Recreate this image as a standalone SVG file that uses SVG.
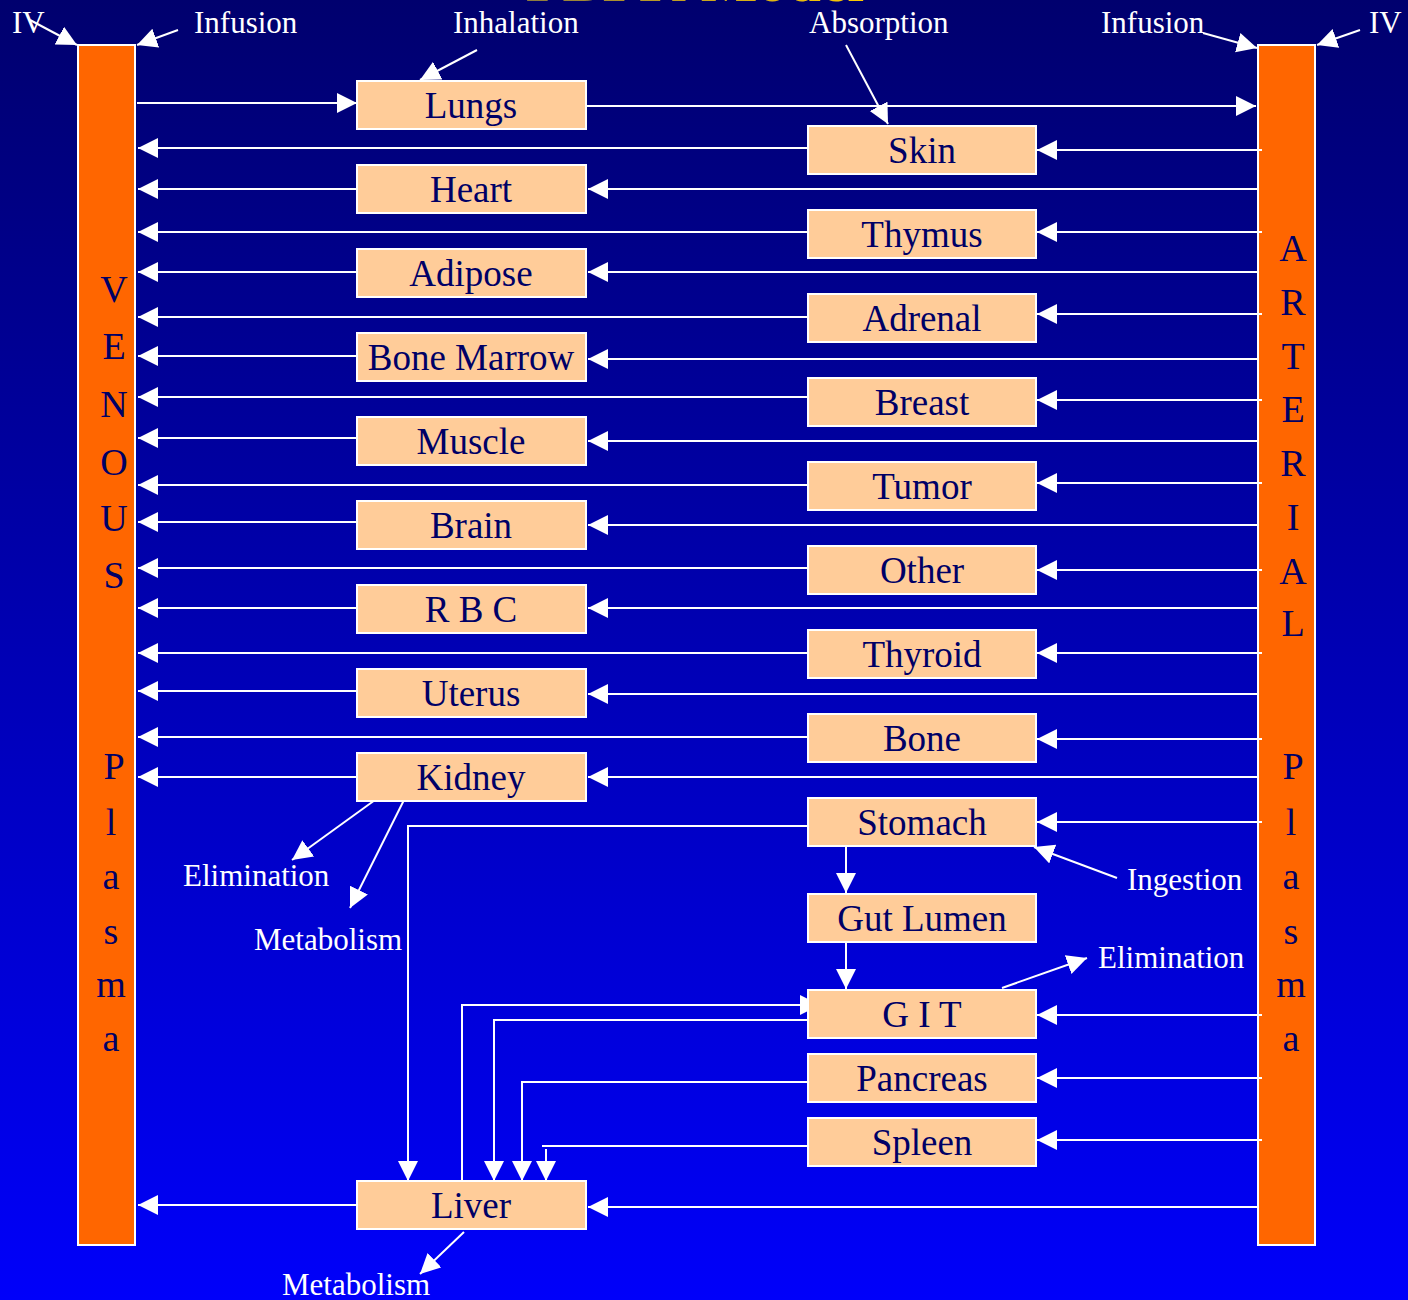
<svg xmlns="http://www.w3.org/2000/svg" width="1408" height="1300" viewBox="0 0 1408 1300">
<defs>
<linearGradient id="bg" x1="0" y1="0" x2="0" y2="1">
<stop offset="0" stop-color="#00006e"/>
<stop offset="1" stop-color="#0000fa"/>
</linearGradient>
<linearGradient id="gold" x1="0" y1="0" x2="1" y2="0">
<stop offset="0" stop-color="#8c7a40"/>
<stop offset="1" stop-color="#ffcc00"/>
</linearGradient>
<marker id="ah" markerUnits="userSpaceOnUse" markerWidth="22" markerHeight="22" refX="20" refY="10" orient="auto">
<path d="M0,0 L20,10 L0,20 z" fill="#fff"/>
</marker>
</defs>
<style>
.bar{fill:#ff6600;stroke:#fff;stroke-width:2}
.box{fill:#ffcc99;stroke:#fff;stroke-width:2}
.bt{font-family:"Liberation Serif",serif;font-size:37px;fill:#000066;text-anchor:middle}
.vt{font-family:"Liberation Serif",serif;font-size:38px;fill:#000066;text-anchor:middle}
.lb{font-family:"Liberation Serif",serif;font-size:31px;fill:#fff}
.c{fill:none;stroke:#fff;stroke-width:2}
.a{marker-end:url(#ah)}
</style>
<rect x="0" y="0" width="1408" height="1300" fill="url(#bg)"/>
<text x="695" y="1" font-family="Liberation Serif,serif" font-weight="bold" font-size="60" fill="url(#gold)" text-anchor="middle">PBPK Model</text>

<g id="venous">
<rect class="bar" x="78" y="45" width="57" height="1200"/>
<text class="vt" x="114" y="302">V</text>
<text class="vt" x="114" y="359">E</text>
<text class="vt" x="114" y="417">N</text>
<text class="vt" x="114" y="475">O</text>
<text class="vt" x="114" y="531">U</text>
<text class="vt" x="114" y="588">S</text>
<text class="vt" x="114" y="779">P</text>
<text class="vt" x="111" y="835">l</text>
<text class="vt" x="111" y="889">a</text>
<text class="vt" x="111" y="944">s</text>
<text class="vt" x="111" y="997">m</text>
<text class="vt" x="111" y="1051">a</text>
</g>
<g id="arterial">
<rect class="bar" x="1258" y="45" width="57" height="1200"/>
<text class="vt" x="1293" y="261">A</text>
<text class="vt" x="1293" y="315">R</text>
<text class="vt" x="1293" y="369">T</text>
<text class="vt" x="1293" y="422">E</text>
<text class="vt" x="1293" y="476">R</text>
<text class="vt" x="1293" y="530">I</text>
<text class="vt" x="1293" y="584">A</text>
<text class="vt" x="1293" y="636">L</text>
<text class="vt" x="1293" y="779">P</text>
<text class="vt" x="1291" y="835">l</text>
<text class="vt" x="1291" y="889">a</text>
<text class="vt" x="1291" y="944">s</text>
<text class="vt" x="1291" y="997">m</text>
<text class="vt" x="1291" y="1051">a</text>
</g>

<g id="connectors">
<line class="c a" x1="137" y1="103" x2="357" y2="103"/>
<line class="c a" x1="586" y1="106" x2="1256" y2="106"/>
<line class="c a" x1="1262" y1="150" x2="1037" y2="150"/>
<line class="c a" x1="808" y1="148" x2="138" y2="148"/>
<line class="c a" x1="1262" y1="232" x2="1037" y2="232"/>
<line class="c a" x1="808" y1="232" x2="138" y2="232"/>
<line class="c a" x1="1262" y1="314" x2="1037" y2="314"/>
<line class="c a" x1="808" y1="317" x2="138" y2="317"/>
<line class="c a" x1="1262" y1="400" x2="1037" y2="400"/>
<line class="c a" x1="808" y1="397" x2="138" y2="397"/>
<line class="c a" x1="1262" y1="483" x2="1037" y2="483"/>
<line class="c a" x1="808" y1="485" x2="138" y2="485"/>
<line class="c a" x1="1262" y1="570" x2="1037" y2="570"/>
<line class="c a" x1="808" y1="568" x2="138" y2="568"/>
<line class="c a" x1="1262" y1="653" x2="1037" y2="653"/>
<line class="c a" x1="808" y1="653" x2="138" y2="653"/>
<line class="c a" x1="1262" y1="739" x2="1037" y2="739"/>
<line class="c a" x1="808" y1="737" x2="138" y2="737"/>
<line class="c a" x1="1257" y1="189" x2="588" y2="189"/>
<line class="c a" x1="360" y1="189" x2="138" y2="189"/>
<line class="c a" x1="1257" y1="272" x2="588" y2="272"/>
<line class="c a" x1="360" y1="272" x2="138" y2="272"/>
<line class="c a" x1="1257" y1="359" x2="588" y2="359"/>
<line class="c a" x1="360" y1="356" x2="138" y2="356"/>
<line class="c a" x1="1257" y1="441" x2="588" y2="441"/>
<line class="c a" x1="360" y1="438" x2="138" y2="438"/>
<line class="c a" x1="1257" y1="525" x2="588" y2="525"/>
<line class="c a" x1="360" y1="522" x2="138" y2="522"/>
<line class="c a" x1="1257" y1="608" x2="588" y2="608"/>
<line class="c a" x1="360" y1="608" x2="138" y2="608"/>
<line class="c a" x1="1257" y1="694" x2="588" y2="694"/>
<line class="c a" x1="360" y1="691" x2="138" y2="691"/>
<line class="c a" x1="1257" y1="777" x2="588" y2="777"/>
<line class="c a" x1="360" y1="777" x2="138" y2="777"/>
<line class="c a" x1="1262" y1="822" x2="1037" y2="822"/>
<polyline class="c a" points="808,826 408,826 408,1181"/>
<line class="c a" x1="846" y1="846" x2="846" y2="893"/>
<line class="c a" x1="846" y1="942" x2="846" y2="989"/>
<line class="c a" x1="1262" y1="1015" x2="1037" y2="1015"/>
<polyline class="c a" points="462,1181 462,1005 820,1005"/>
<polyline class="c a" points="808,1020 494,1020 494,1181"/>
<line class="c a" x1="1262" y1="1078" x2="1037" y2="1078"/>
<polyline class="c a" points="808,1082 522,1082 522,1181"/>
<line class="c a" x1="1262" y1="1140" x2="1037" y2="1140"/>
<line class="c" x1="812" y1="1146" x2="542" y2="1146"/>
<line class="c a" x1="546" y1="1149" x2="546" y2="1181"/>
<line class="c a" x1="1257" y1="1207" x2="588" y2="1207"/>
<line class="c a" x1="360" y1="1205" x2="138" y2="1205"/>
<line class="c a" x1="30" y1="20" x2="77" y2="45"/>
<line class="c a" x1="178" y1="30" x2="137" y2="45"/>
<line class="c a" x1="477" y1="50" x2="420" y2="80"/>
<line class="c a" x1="846" y1="45" x2="888" y2="124"/>
<line class="c a" x1="1203" y1="33" x2="1257" y2="48"/>
<line class="c a" x1="1360" y1="30" x2="1317" y2="45"/>
<line class="c a" x1="375" y1="800" x2="292" y2="860"/>
<line class="c a" x1="405" y1="798" x2="350" y2="908"/>
<line class="c a" x1="1117" y1="878" x2="1034" y2="847"/>
<line class="c a" x1="1002" y1="988" x2="1087" y2="958"/>
<line class="c a" x1="464" y1="1232" x2="420" y2="1274"/>
</g>

<g id="lungs"><rect class="box" x="357" y="81" width="229" height="48"/><text class="bt" x="471" y="118">Lungs</text></g>
<g id="heart"><rect class="box" x="357" y="165" width="229" height="48"/><text class="bt" x="471" y="202">Heart</text></g>
<g id="adipose"><rect class="box" x="357" y="249" width="229" height="48"/><text class="bt" x="471" y="286">Adipose</text></g>
<g id="bone-marrow"><rect class="box" x="357" y="333" width="229" height="48"/><text class="bt" x="471" y="370">Bone Marrow</text></g>
<g id="muscle"><rect class="box" x="357" y="417" width="229" height="48"/><text class="bt" x="471" y="454">Muscle</text></g>
<g id="brain"><rect class="box" x="357" y="501" width="229" height="48"/><text class="bt" x="471" y="538">Brain</text></g>
<g id="rbc"><rect class="box" x="357" y="585" width="229" height="48"/><text class="bt" x="471" y="622">R B C</text></g>
<g id="uterus"><rect class="box" x="357" y="669" width="229" height="48"/><text class="bt" x="471" y="706">Uterus</text></g>
<g id="kidney"><rect class="box" x="357" y="753" width="229" height="48"/><text class="bt" x="471" y="790">Kidney</text></g>
<g id="liver"><rect class="box" x="357" y="1181" width="229" height="48"/><text class="bt" x="471" y="1218">Liver</text></g>

<g id="skin"><rect class="box" x="808" y="126" width="228" height="48"/><text class="bt" x="922" y="163">Skin</text></g>
<g id="thymus"><rect class="box" x="808" y="210" width="228" height="48"/><text class="bt" x="922" y="247">Thymus</text></g>
<g id="adrenal"><rect class="box" x="808" y="294" width="228" height="48"/><text class="bt" x="922" y="331">Adrenal</text></g>
<g id="breast"><rect class="box" x="808" y="378" width="228" height="48"/><text class="bt" x="922" y="415">Breast</text></g>
<g id="tumor"><rect class="box" x="808" y="462" width="228" height="48"/><text class="bt" x="922" y="499">Tumor</text></g>
<g id="other"><rect class="box" x="808" y="546" width="228" height="48"/><text class="bt" x="922" y="583">Other</text></g>
<g id="thyroid"><rect class="box" x="808" y="630" width="228" height="48"/><text class="bt" x="922" y="667">Thyroid</text></g>
<g id="bone"><rect class="box" x="808" y="714" width="228" height="48"/><text class="bt" x="922" y="751">Bone</text></g>
<g id="stomach"><rect class="box" x="808" y="798" width="228" height="48"/><text class="bt" x="922" y="835">Stomach</text></g>
<g id="gut-lumen"><rect class="box" x="808" y="894" width="228" height="48"/><text class="bt" x="922" y="931">Gut Lumen</text></g>
<g id="git"><rect class="box" x="808" y="990" width="228" height="48"/><text class="bt" x="922" y="1027">G I T</text></g>
<g id="pancreas"><rect class="box" x="808" y="1054" width="228" height="48"/><text class="bt" x="922" y="1091">Pancreas</text></g>
<g id="spleen"><rect class="box" x="808" y="1118" width="228" height="48"/><text class="bt" x="922" y="1155">Spleen</text></g>

<g id="labels">
<text class="lb" x="12" y="33">IV</text>
<text class="lb" x="194" y="33">Infusion</text>
<text class="lb" x="453" y="33">Inhalation</text>
<text class="lb" x="809" y="33">Absorption</text>
<text class="lb" x="1101" y="33">Infusion</text>
<text class="lb" x="1369" y="33">IV</text>
<text class="lb" x="183" y="886">Elimination</text>
<text class="lb" x="254" y="950">Metabolism</text>
<text class="lb" x="1127" y="890">Ingestion</text>
<text class="lb" x="1098" y="968">Elimination</text>
<text class="lb" x="282" y="1295">Metabolism</text>
</g>
</svg>
